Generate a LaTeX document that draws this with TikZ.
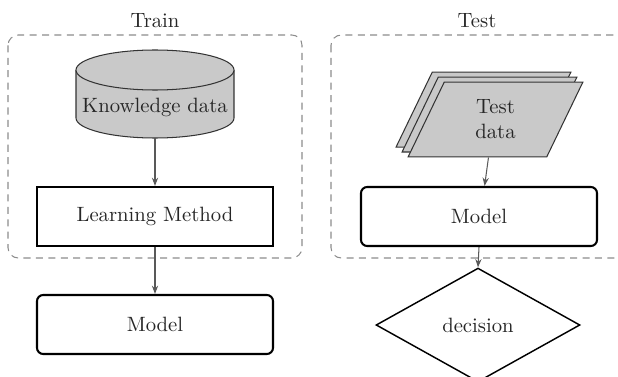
\documentclass[tikz,border=0pt]{standalone}
\usetikzlibrary{shapes.geometric,shadows,arrows.meta}
\definecolor{datafill}{gray}{0.79}
\definecolor{txt}{gray}{0.15}
\begin{document}
\begin{tikzpicture}[x=0.483pt,y=-0.483pt,
  every node/.style={text=txt},
  frame/.style={draw=black!45,dashed,dash pattern=on 3.4pt off 2.6pt,rounded corners=5pt,line width=0.5pt},
  procbox/.style={draw=black,line width=1pt,minimum width=114pt,minimum height=28.5pt,inner sep=0pt},
  modelbox/.style={procbox,rounded corners=3pt},
  dbline/.style={draw=black!80,line width=0.5pt},
  docs/.style={trapezium,trapezium left angle=70,trapezium right angle=110,trapezium stretches=true,
    draw=black!80,fill=datafill,line width=0.5pt,minimum width=84.5pt,minimum height=36.2pt,
    align=center,inner sep=0pt,
    double copy shadow={shadow xshift=-2.9pt,shadow yshift=2.4pt,fill=datafill,draw=black!80,line width=0.5pt}},
  choice/.style={diamond,draw=black,line width=0.7pt,aspect=1.79,minimum width=98.5pt,minimum height=55pt,inner sep=0pt},
  flow/.style={draw=black!65,line width=0.5pt,-{Stealth[length=4pt,width=3pt]}}
]
\useasboundingbox (0,0) rectangle (618,377);

% group frames
\draw[frame] (8,35) rectangle (302,258);
\draw[frame] (331,35) rectangle (640,258);

% headings
\node (trainlbl) at (155,21) {Train};
\node (testlbl) at (477,21) {Test};

% knowledge store drawn as a cylinder
\fill[datafill] (155,118) ellipse [x radius=38.16pt, y radius=9.66pt];
\fill[datafill] (76,70) rectangle (234,118);
\draw[dbline] (76,70) -- (76,118) arc[start angle=180, end angle=360, x radius=38.16pt, y radius=9.66pt] -- (234,70);
\draw[dbline,fill=datafill] (155,70) ellipse [x radius=38.16pt, y radius=9.66pt];
\node (kdata) at (155,107) {Knowledge data};
\coordinate (kbase) at (155,138);

% training branch
\node[procbox] (learn) at (155,216.5) {Learning Method};
\node[modelbox] (model1) at (155,324.5) {Model};

% test branch
\node[docs] (tdata) at (495.5,119.5) {Test\\data};
\node[modelbox] (model2) at (479,216.5) {Model};
\node[choice] (decide) at (478,325) {decision};

% connectors
\draw[flow] (kbase) -- (learn.north);
\draw[flow] (learn.south) -- (model1.north);
\draw[flow] ([xshift=-3.4pt]tdata.south) -- ([xshift=2.7pt]model2.north);
\draw[flow] (model2.south) -- (decide.north);
\end{tikzpicture}
\end{document}
